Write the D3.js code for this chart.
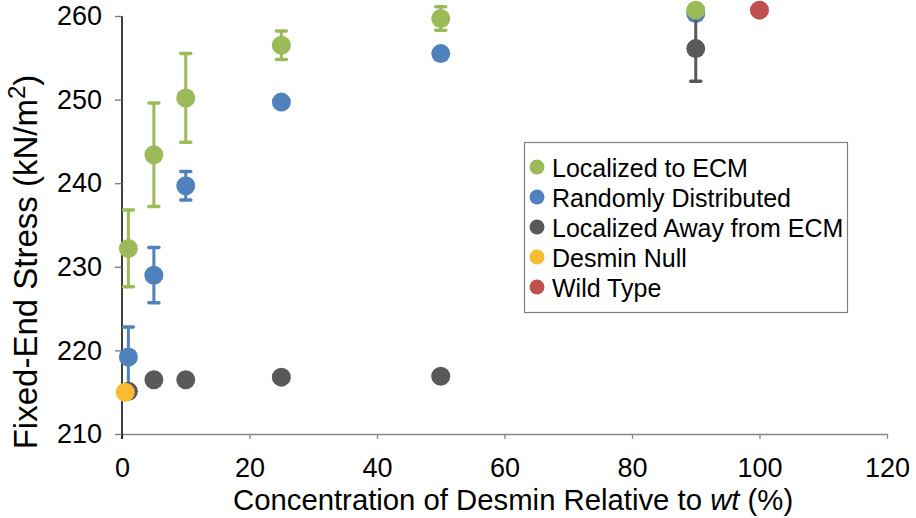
<!DOCTYPE html>
<html>
<head>
<meta charset="utf-8">
<script src="https://cdn.jsdelivr.net/npm/d3@7"></script>
<style>
  html, body { margin: 0; padding: 0; background: #fff; }
  svg text { font-family: "Liberation Sans", Arial, sans-serif; fill: #000; }
</style>
</head>
<body>
<svg id="chart" width="916" height="518"></svg>
<script>
// Desmin concentration (% of wild type) for the three distribution models
const concentrations = [1, 5, 10, 25, 50, 90];

// Fixed-end stress (kN/m^2): means and error half-widths
const ecmMean    = [232.2, 243.4, 250.2, 256.5, 259.7, 260.7];
const ecmErr     = [4.6, 6.2, 5.3, 1.7, 1.4, 0];
const randomMean = [219.2, 229.0, 239.7, 249.7, 255.5, 260.3];
const randomErr  = [3.6, 3.3, 1.7, 0, 0, 0];
const awayMean   = [215.1, 216.5, 216.5, 216.8, 216.9, 256.1];
const awayErr    = [0, 0, 0, 0.6, 0, 3.9];

// Reference points
const nullConc = [0.5], nullMean = [215.0];
const wtConc = [100], wtMean = [260.7];

const xTicks = [0, 20, 40, 60, 80, 100, 120];
const yTicks = [210, 220, 230, 240, 250, 260];

const seriesNames = ["Localized to ECM", "Randomly Distributed", "Localized Away from ECM", "Desmin Null", "Wild Type"];
const seriesColors = ["#9BBB59", "#4F81BD", "#595959", "#F9BB30", "#C0504D"];

const svg = d3.select("#chart");
const x = d3.scaleLinear().domain([0, 120]).range([122, 887]);
const y = d3.scaleLinear().domain([210, 260]).range([434, 16]);

// Axes
const xAxis = svg.append("g")
  .attr("transform", `translate(0,${y(210)})`)
  .call(d3.axisBottom(x).tickValues(xTicks).tickSize(5).tickPadding(19).tickSizeOuter(0));
xAxis.select(".domain").attr("stroke", "#868686").attr("stroke-width", 1.5);
xAxis.selectAll(".tick line").attr("stroke", "#868686").attr("stroke-width", 1.3);
xAxis.selectAll(".tick text").attr("font-size", 27).style("font-family", "Liberation Sans, Arial, sans-serif");

const yAxis = svg.append("g")
  .attr("transform", `translate(${x(0)},0)`)
  .call(d3.axisLeft(y).tickValues(yTicks).tickSize(7).tickPadding(13).tickSizeOuter(0));
yAxis.select(".domain").attr("stroke", "#000").attr("stroke-width", 1.5)
  .attr("d", `M0,${y(260)}V${y(210) + 5}`);
yAxis.selectAll(".tick line").attr("stroke", "#777").attr("stroke-width", 1.3);
yAxis.selectAll(".tick text").attr("font-size", 27).style("font-family", "Liberation Sans, Arial, sans-serif");

// Axis titles
svg.append("text")
  .attr("x", 233).attr("y", 510)
  .attr("font-size", 29.3)
  .call(t => {
    t.append("tspan").text("Concentration of Desmin Relative to ");
    t.append("tspan").attr("font-style", "italic").text("wt");
    t.append("tspan").text(" (%)");
  });

svg.append("text")
  .attr("transform", `translate(37,262) rotate(-90)`)
  .attr("text-anchor", "middle")
  .attr("font-size", 33)
  .call(t => {
    t.append("tspan").text("Fixed-End Stress (kN/m");
    t.append("tspan").attr("font-size", 24).attr("dy", -12).text("2");
    t.append("tspan").attr("dy", 12).text(")");
  });

// Error bars with flat caps, then markers
function drawSeries(xs, means, errs, color) {
  const g = svg.append("g");
  const pts = xs.map((c, i) => ({ c, m: means[i], e: errs ? errs[i] : 0 }));
  const withErr = pts.filter(p => p.e > 0);
  g.selectAll("line.bar").data(withErr).join("line")
    .attr("x1", p => x(p.c)).attr("x2", p => x(p.c))
    .attr("y1", p => y(p.m - p.e)).attr("y2", p => y(p.m + p.e))
    .attr("stroke", color).attr("stroke-width", 3);
  ["top", "bottom"].forEach(side => {
    g.selectAll("line.cap-" + side).data(withErr).join("line")
      .attr("x1", p => x(p.c) - 5).attr("x2", p => x(p.c) + 5)
      .attr("y1", p => y(side === "top" ? p.m + p.e : p.m - p.e))
      .attr("y2", p => y(side === "top" ? p.m + p.e : p.m - p.e))
      .attr("stroke", color).attr("stroke-width", 3.5).attr("stroke-linecap", "round");
  });
  g.selectAll("circle").data(pts).join("circle")
    .attr("cx", p => x(p.c)).attr("cy", p => y(p.m))
    .attr("r", 9.5).attr("fill", color);
}

drawSeries(concentrations, randomMean, randomErr, seriesColors[1]);
drawSeries(concentrations, awayMean, awayErr, seriesColors[2]);
drawSeries(concentrations, ecmMean, ecmErr, seriesColors[0]);
drawSeries(nullConc, nullMean, null, seriesColors[3]);
drawSeries(wtConc, wtMean, null, seriesColors[4]);

// Legend
const legend = svg.append("g");
legend.append("rect")
  .attr("x", 524.5).attr("y", 142.5).attr("width", 323).attr("height", 170)
  .attr("fill", "#fff").attr("stroke", "#7f7f7f").attr("stroke-width", 1.2);
const rows = legend.selectAll("g.row").data(seriesNames).join("g")
  .attr("transform", (d, i) => `translate(537,${167 + i * 30})`);
rows.append("circle").attr("r", 7.5).attr("fill", (d, i) => seriesColors[i]);
rows.append("text").attr("x", 15).attr("y", 9.5).attr("font-size", 25).text(d => d);
</script>
</body>
</html>
